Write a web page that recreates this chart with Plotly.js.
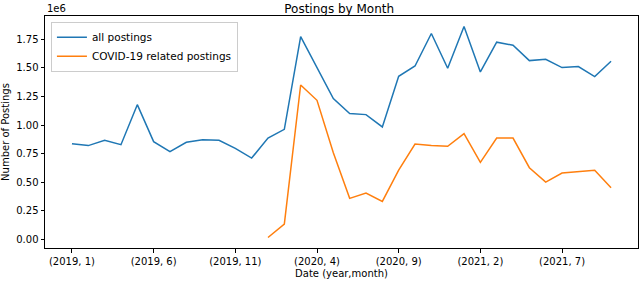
<!DOCTYPE html>
<html><head><meta charset="utf-8">
<script src="https://cdn.plot.ly/plotly-3.0.1.min.js"></script>
<style>html,body{margin:0;padding:0;background:#fff}#chart{width:640px;height:281px}</style>
</head><body><div id="chart"></div>
<script>
const months = [];
for (let y = 2019; y <= 2021; y++) for (let m = 1; m <= 12; m++) { if (y === 2021 && m > 10) break; months.push('(' + y + ', ' + m + ')'); }
const tickLabels = ['(2019, 1)','(2019, 6)','(2019, 11)','(2020, 4)','(2020, 9)','(2021, 2)','(2021, 7)'];
const allPostings = [0.837,0.820,0.866,0.828,1.178,0.855,0.767,0.849,0.872,0.866,0.796,0.711,
  0.886,0.962,1.773,1.502,1.231,1.100,1.091,0.983,1.426,1.516,1.800,1.496,
  1.861,1.464,1.724,1.697,1.563,1.575,1.502,1.511,1.423,1.557].map(v=>v*1e6);
const covidPostings = [null,null,null,null,null,null,null,null,null,null,null,null,
  0.017,0.134,1.350,1.216,0.758,0.359,0.405,0.332,0.606,0.834,0.822,0.814,
  0.925,0.674,0.886,0.886,0.627,0.501,0.580,0.595,0.604,0.452].map(v=>v===null?null:v*1e6);

const font = {family:'DejaVu Sans, sans-serif', size:10, color:'#000'};
const data = [
  {x:months, y:allPostings, type:'scatter', mode:'lines', name:'all postings', line:{color:'#1f77b4', width:1.5}},
  {x:months, y:covidPostings, type:'scatter', mode:'lines', name:'COVID-19 related postings', line:{color:'#ff7f0e', width:1.5}, connectgaps:false}
];
const layout = {
  width:640, height:281,
  margin:{l:45, r:2, t:16, b:33},
  paper_bgcolor:'#fff', plot_bgcolor:'#fff',
  font:font,
  showlegend:true,
  title:{text:'Postings by Month', font:{family:'DejaVu Sans, sans-serif', size:12, color:'#000'}, x:0.53, xanchor:'center', y:0.97, yanchor:'middle', yref:'container'},
  xaxis:{type:'category', range:[-1.65,34.65], tickmode:'array', tickvals:tickLabels, ticktext:tickLabels,
    showgrid:false, zeroline:false, showline:true, linecolor:'#000', linewidth:1, mirror:true,
    ticks:'outside', ticklen:3.5, tickcolor:'#000', tickfont:font,
    title:{text:'Date (year,month)', font:font, standoff:4}},
  yaxis:{range:[-75000,1953000], tickmode:'array', tickvals:[0,250000,500000,750000,1000000,1250000,1500000,1750000],
    ticktext:['0.00','0.25','0.50','0.75','1.00','1.25','1.50','1.75'],
    showgrid:false, zeroline:false, showline:true, linecolor:'#000', linewidth:1, mirror:true,
    ticks:'outside', ticklen:3.5, tickcolor:'#000', tickfont:font,
    title:{text:'Number of Postings', font:font, standoff:6}},
  legend:{x:0.01, y:0.975, xanchor:'left', yanchor:'top', bgcolor:'rgba(255,255,255,0.8)', bordercolor:'#ccc', borderwidth:1,
    font:{family:'DejaVu Sans, sans-serif', size:10.5, color:'#000'}, tracegroupgap:0, itemwidth:30},
  annotations:[{text:'1e6', xref:'paper', yref:'paper', x:0, y:1, xanchor:'left', yanchor:'bottom', showarrow:false, font:font, yshift:0}]
};
Plotly.newPlot('chart', data, layout, {staticPlot:true, displayModeBar:false});
</script></body></html>
